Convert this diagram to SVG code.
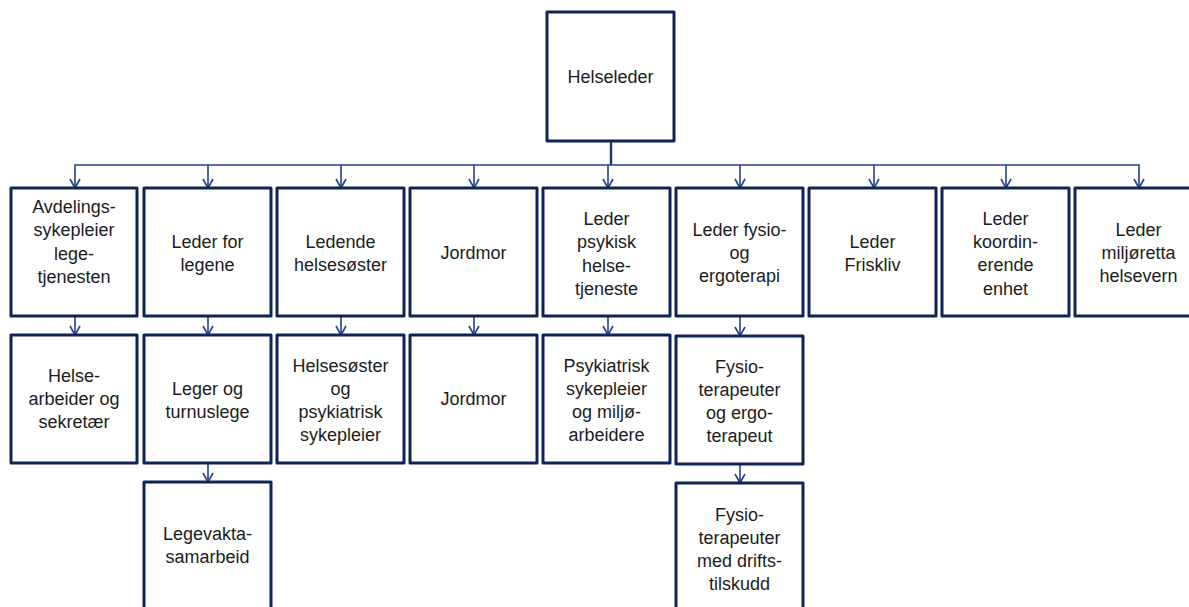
<svg xmlns="http://www.w3.org/2000/svg" width="1189" height="607" viewBox="0 0 1189 607">
<style>
.box{fill:#fff;stroke:#0e2356;stroke-width:3;stroke-linejoin:round}
.t{font-family:"Liberation Sans",Arial,sans-serif;font-size:18px;fill:#1c1c1c;text-anchor:middle}
.c{fill:none;stroke:#23408a;stroke-width:1.6}
.h{fill:none;stroke:#1c3470;stroke-width:2.4}
</style>
<defs>
<marker id="a" viewBox="0 0 12 12" refX="11" refY="6" markerWidth="12" markerHeight="12" markerUnits="userSpaceOnUse" orient="auto-start-reverse">
<path d="M2,1 L11,6 L2,11" fill="none" stroke="#23408a" stroke-width="1.6"/>
</marker>
</defs>
<g id="connectors">
<path class="h" d="M611,141 V165"/>
<path class="c" d="M75,188 V165 H1139 V188" marker-start="url(#a)" marker-end="url(#a)"/>
<path class="c" d="M208,165 V188" marker-end="url(#a)"/>
<path class="c" d="M341,165 V188" marker-end="url(#a)"/>
<path class="c" d="M474,165 V188" marker-end="url(#a)"/>
<path class="c" d="M608,165 V188" marker-end="url(#a)"/>
<path class="c" d="M740,165 V188" marker-end="url(#a)"/>
<path class="c" d="M874,165 V188" marker-end="url(#a)"/>
<path class="c" d="M1006,165 V188" marker-end="url(#a)"/>
<path class="c" d="M75,316 V335" marker-end="url(#a)"/>
<path class="c" d="M208,316 V335" marker-end="url(#a)"/>
<path class="c" d="M341,316 V335" marker-end="url(#a)"/>
<path class="c" d="M474,316 V335" marker-end="url(#a)"/>
<path class="c" d="M608,316 V335" marker-end="url(#a)"/>
<path class="c" d="M740,316 V336" marker-end="url(#a)"/>
<path class="c" d="M208,463 V482" marker-end="url(#a)"/>
<path class="c" d="M740,464 V483" marker-end="url(#a)"/>
</g>
<g id="helseleder"><rect class="box" x="547" y="12" width="127" height="129"/><text class="t" x="610.5" y="83">Helseleder</text></g>

<g id="avdelingssykepleier"><rect class="box" x="11" y="188" width="126" height="128"/><text class="t" x="74" y="213">Avdelings-</text><text class="t" x="74" y="236">sykepleier</text><text class="t" x="74" y="260">lege-</text><text class="t" x="74" y="283">tjenesten</text></g>
<g id="leder-legene"><rect class="box" x="144" y="188" width="127" height="128"/><text class="t" x="207.5" y="248">Leder for</text><text class="t" x="207.5" y="271">legene</text></g>
<g id="ledende-helsesoster"><rect class="box" x="277" y="188" width="127" height="128"/><text class="t" x="340.5" y="248">Ledende</text><text class="t" x="340.5" y="271">helsesøster</text></g>
<g id="jordmor1"><rect class="box" x="410" y="188" width="127" height="128"/><text class="t" x="473.5" y="259">Jordmor</text></g>
<g id="leder-psykisk"><rect class="box" x="543" y="188" width="127" height="128"/><text class="t" x="606.5" y="225">Leder</text><text class="t" x="606.5" y="248">psykisk</text><text class="t" x="606.5" y="272">helse-</text><text class="t" x="606.5" y="295">tjeneste</text></g>
<g id="leder-fysio"><rect class="box" x="676" y="188" width="127" height="128"/><text class="t" x="739.5" y="236">Leder fysio-</text><text class="t" x="739.5" y="259">og</text><text class="t" x="739.5" y="282">ergoterapi</text></g>
<g id="leder-friskliv"><rect class="box" x="809" y="188" width="127" height="128"/><text class="t" x="872.5" y="248">Leder</text><text class="t" x="872.5" y="271">Friskliv</text></g>
<g id="leder-koordinerende"><rect class="box" x="942" y="188" width="127" height="128"/><text class="t" x="1005.5" y="225">Leder</text><text class="t" x="1005.5" y="248">koordin-</text><text class="t" x="1005.5" y="271">erende</text><text class="t" x="1005.5" y="295">enhet</text></g>
<g id="leder-miljoretta"><rect class="box" x="1075" y="188" width="127" height="128"/><text class="t" x="1138.5" y="236">Leder</text><text class="t" x="1138.5" y="259">miljøretta</text><text class="t" x="1138.5" y="282">helsevern</text></g>

<g id="helsearbeider"><rect class="box" x="11" y="335" width="126" height="128"/><text class="t" x="74" y="382">Helse-</text><text class="t" x="74" y="405">arbeider og</text><text class="t" x="74" y="428">sekretær</text></g>
<g id="leger"><rect class="box" x="144" y="335" width="127" height="128"/><text class="t" x="207.5" y="395">Leger og</text><text class="t" x="207.5" y="418">turnuslege</text></g>
<g id="helsesoster"><rect class="box" x="277" y="335" width="127" height="128"/><text class="t" x="340.5" y="372">Helsesøster</text><text class="t" x="340.5" y="395">og</text><text class="t" x="340.5" y="418">psykiatrisk</text><text class="t" x="340.5" y="441">sykepleier</text></g>
<g id="jordmor2"><rect class="box" x="410" y="335" width="127" height="128"/><text class="t" x="473.5" y="405">Jordmor</text></g>
<g id="psykiatrisk"><rect class="box" x="543" y="335" width="127" height="128"/><text class="t" x="606.5" y="372">Psykiatrisk</text><text class="t" x="606.5" y="395">sykepleier</text><text class="t" x="606.5" y="418">og miljø-</text><text class="t" x="606.5" y="441">arbeidere</text></g>
<g id="fysioterapeuter"><rect class="box" x="676" y="336" width="127" height="128"/><text class="t" x="739.5" y="373">Fysio-</text><text class="t" x="739.5" y="396">terapeuter</text><text class="t" x="739.5" y="419">og ergo-</text><text class="t" x="739.5" y="442">terapeut</text></g>

<g id="legevakt"><rect class="box" x="144" y="482" width="127" height="130"/><text class="t" x="207.5" y="540">Legevakta-</text><text class="t" x="207.5" y="563">samarbeid</text></g>
<g id="fysio-drift"><rect class="box" x="676" y="483" width="127" height="130"/><text class="t" x="739.5" y="521">Fysio-</text><text class="t" x="739.5" y="544">terapeuter</text><text class="t" x="739.5" y="567">med drifts-</text><text class="t" x="739.5" y="590">tilskudd</text></g>
</svg>
